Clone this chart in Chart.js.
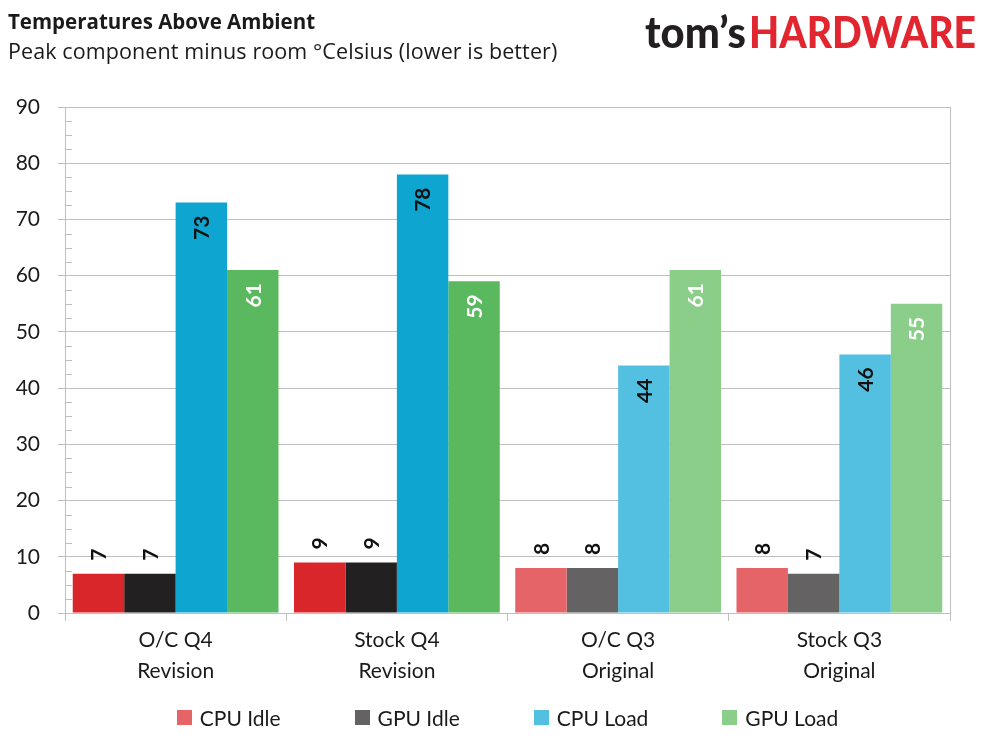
<!DOCTYPE html>
<html>
<head>
<meta charset="utf-8">
<script src="https://cdn.jsdelivr.net/npm/chart.js@4.4.1/dist/chart.umd.min.js"></script>
<style>
  html, body { margin: 0; padding: 0; background: #fff; }
  #wrap { position: relative; width: 989px; height: 742px; font-family: Lato, "Open Sans", sans-serif; color: #1a1a1a; }
  #title { position: absolute; left: 8px; top: 7px; font-family: "Open Sans", sans-serif; font-size: 20.5px; font-weight: bold; }
  #subtitle { position: absolute; left: 8px; top: 36px; font-family: "Open Sans", sans-serif; font-size: 21.5px; letter-spacing: 0.1px; }
  #logo { position: absolute; left: 645px; top: 5px; font-family: Lato, sans-serif;
          font-weight: 900; font-size: 44px; white-space: nowrap; line-height: 52px; }
  #logo span { display: inline-block; transform-origin: 0 0; }
  #logo .t { color: #231f20; }
  #logo .h { color: #e2262f; position: absolute; top: 0; }
  #legend { position: absolute; top: 705px; left: 0; width: 1015px; display: flex; justify-content: center;
            font-size: 21px; }
  #legend .item { display: flex; align-items: center; margin: 0 37px; }
  #legend .box { width: 15px; height: 15px; margin-right: 8px; }
</style>
</head>
<body>
<div id="wrap">
  <canvas id="chart"></canvas>
  <div id="title">Temperatures Above Ambient</div>
  <div id="subtitle">Peak component minus room °Celsius (lower is better)</div>
  <div id="logo"><span class="t">tom’s</span><span class="h">HARDWARE</span></div>
  <div id="legend"></div>
</div>
<script>
document.addEventListener("DOMContentLoaded", () => {
  // chart data
  const categories = [["O/C Q4", "Revision"], ["Stock Q4", "Revision"], ["O/C Q3", "Original"], ["Stock Q3", "Original"]];
  const seriesNames = ["CPU Idle", "GPU Idle", "CPU Load", "GPU Load"];
  const cpuIdle = [7, 9, 8, 8];
  const gpuIdle = [7, 9, 8, 7];
  const cpuLoad = [73, 78, 44, 46];
  const gpuLoad = [61, 59, 61, 55];
  const yTicks = [0, 10, 20, 30, 40, 50, 60, 70, 80, 90];

  // Q4 revision bars are drawn saturated, Q3 original bars lighter
  const strong = ["#d9262b", "#222021", "#0ea5d0", "#5ab85e"];
  const light = ["#e46468", "#646263", "#53bfe1", "#8ace8a"];
  const labelColors = ["#111", "#111", "#111", "#fff"];
  const values = [cpuIdle, gpuIdle, cpuLoad, gpuLoad];

  const datasets = values.map((data, i) => ({
    label: seriesNames[i],
    data: data,
    backgroundColor: [strong[i], strong[i], light[i], light[i]],
    categoryPercentage: 0.93,
    barPercentage: 1.0
  }));

  // rotated value labels, inside the top of tall bars, above short ones
  const valueLabels = {
    id: "valueLabels",
    afterDatasetsDraw(chart) {
      const ctx = chart.ctx;
      ctx.save();
      ctx.font = "bold 21px Lato, 'Open Sans', sans-serif";
      ctx.textBaseline = "middle";
      chart.data.datasets.forEach((ds, di) => {
        const meta = chart.getDatasetMeta(di);
        meta.data.forEach((bar, i) => {
          const v = ds.data[i];
          ctx.save();
          ctx.translate(bar.x, bar.y);
          ctx.rotate(-Math.PI / 2);
          if (v > 20) {
            ctx.fillStyle = labelColors[di];
            ctx.textAlign = "right";
            ctx.fillText(String(v), -13, 1);
          } else {
            ctx.fillStyle = "#111";
            ctx.textAlign = "left";
            ctx.fillText(String(v), 13, 1);
          }
          ctx.restore();
        });
      });
      ctx.restore();
    }
  };

  // minor ticks on the value axis and right plot border
  const axisExtras = {
    id: "axisExtras",
    afterDraw(chart) {
      const ctx = chart.ctx;
      const area = chart.chartArea;
      const y = chart.scales.y;
      ctx.save();
      ctx.strokeStyle = "#bfbfbf";
      ctx.lineWidth = 1;
      ctx.beginPath();
      for (let k = 0; k < yTicks.length - 1; k++) {
        [2.5, 5, 7.5].forEach(m => {
          const py = Math.round(y.getPixelForValue(yTicks[k] + m)) + 0.5;
          ctx.moveTo(area.left, py);
          ctx.lineTo(area.left + 7, py);
        });
      }
      const rx = Math.round(area.right) + 0.5;
      ctx.moveTo(rx, area.top);
      ctx.lineTo(rx, area.bottom);
      ctx.stroke();
      ctx.restore();
    }
  };

  const canvas = document.getElementById("chart");
  canvas.width = 989;
  canvas.height = 742;
  new Chart(canvas.getContext("2d"), {
    type: "bar",
    data: { labels: categories, datasets: datasets },
    options: {
      responsive: false,
      animation: false,
      layout: { padding: { top: 107, right: 39, bottom: 55, left: 0 } },
      plugins: {
        legend: { display: false },
        tooltip: { enabled: false }
      },
      scales: {
        x: {
          offset: true,
          grid: { offset: true, drawOnChartArea: false, color: "#bfbfbf", tickLength: 8 },
          border: { color: "#bfbfbf" },
          ticks: {
            color: "#1a1a1a",
            padding: 4,
            font: { family: "Lato, 'Open Sans', sans-serif", size: 21, lineHeight: 1.48 }
          },
          afterFit(scale) { scale.height = 74; }
        },
        y: {
          min: 0,
          max: 90,
          ticks: {
            stepSize: 10,
            color: "#1a1a1a",
            padding: 18,
            font: { family: "Lato, 'Open Sans', sans-serif", size: 21 }
          },
          grid: { color: "#bfbfbf", tickLength: 7 },
          border: { color: "#bfbfbf" },
          afterFit(scale) { scale.width = 65; }
        }
      }
    },
    plugins: [valueLabels, axisExtras]
  });

  // legend uses the lighter series colours, like the original
  const legend = document.getElementById("legend");
  seriesNames.forEach((name, i) => {
    const item = document.createElement("div");
    item.className = "item";
    const box = document.createElement("span");
    box.className = "box";
    box.style.background = light[i];
    const text = document.createElement("span");
    text.textContent = name;
    item.appendChild(box);
    item.appendChild(text);
    legend.appendChild(item);
  });

  // squeeze the logo words to the widths of the original mark
  const fitWidth = (el, w, left) => {
    const s = w / el.getBoundingClientRect().width;
    el.style.transform = "scaleX(" + s + ")";
    if (left !== undefined) el.style.left = left + "px";
  };
  fitWidth(document.querySelector("#logo .t"), 101);
  fitWidth(document.querySelector("#logo .h"), 227, 104);
});
</script>
</body>
</html>
